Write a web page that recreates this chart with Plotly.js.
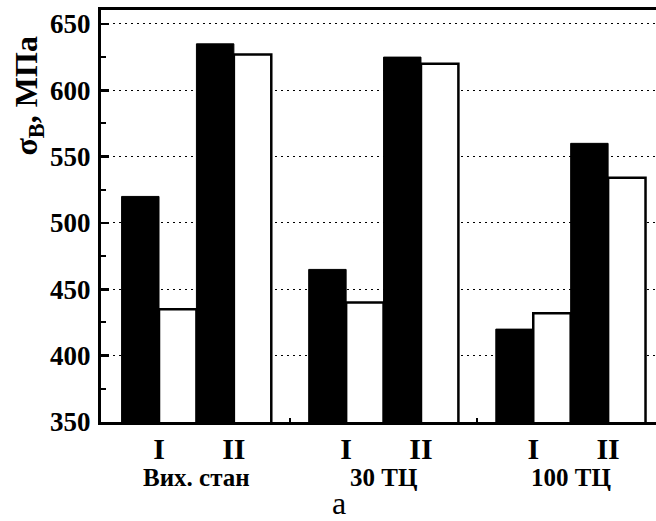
<!DOCTYPE html>
<html>
<head>
<meta charset="utf-8">
<script src="https://cdn.plot.ly/plotly-3.0.1.min.js"></script>
<style>html,body{margin:0;padding:0;background:#fff;}#chart{width:656px;height:521px;}</style>
</head>
<body>
<div id="chart"></div>
<script>
// Data
const groups = ['Вих. стан', '30 ТЦ', '100 ТЦ'];
const subLabels = ['I', 'II'];
const blackVals = [520, 635, 465, 625, 420, 560];
const whiteVals = [435, 627, 440, 620, 432, 534];
const yTicks = [350, 400, 450, 500, 550, 600, 650];
const yTitle = 'σ<sub>В</sub>, МПа';
const caption = 'а';

// Layout helpers (positions derived from indices)
const groupStep = 2.5;
const xs = [], tickText = [];
groups.forEach((g, gi) => subLabels.forEach((s, si) => { xs.push(gi * groupStep + si); tickText.push(s); }));
const groupCenters = groups.map((g, gi) => gi * groupStep + (subLabels.length - 1) / 2);
const betweenGroups = groups.slice(1).map((g, gi) => gi * groupStep + (subLabels.length - 1) + (groupStep - (subLabels.length - 1)) / 2);

const FAM = 'Liberation Serif';
const font = {family: FAM, color: '#000'};

const traces = [
  {type: 'bar', x: xs, y: blackVals, marker: {color: '#000', line: {color: '#000', width: 1}}, showlegend: false, hoverinfo: 'skip'},
  {type: 'bar', x: xs, y: whiteVals, marker: {color: '#fff', line: {color: '#000', width: 2.5}}, showlegend: false, hoverinfo: 'skip'}
];

const annotations = groups.map((g, i) => ({
  x: groupCenters[i], xref: 'x', y: -0.1335, yref: 'paper', yanchor: 'middle', xanchor: 'center',
  text: '<b>' + g + '</b>', showarrow: false, font: Object.assign({}, font, {size: 25})
}));
annotations.push({x: -0.13, xref: 'paper', y: 0.792, yref: 'paper', xanchor: 'center', yanchor: 'middle',
  text: '<b>' + yTitle + '</b>', textangle: -90, showarrow: false, font: Object.assign({}, font, {size: 32})});
annotations.push({x: 0.429, xref: 'paper', y: -0.197, yref: 'paper', xanchor: 'center', yanchor: 'middle',
  text: caption, showarrow: false, font: Object.assign({}, font, {size: 32})});

const layout = {
  width: 656, height: 521,
  margin: {l: 101, r: 0, t: 10, b: 99, pad: 0},
  paper_bgcolor: '#fff', plot_bgcolor: '#fff',
  barmode: 'group', bargap: 0, bargroupgap: 0,
  showlegend: false,
  font: font,
  xaxis: {
    range: [-0.775, 6.64], showgrid: false, zeroline: false,
    showline: true, linecolor: '#000', linewidth: 3, mirror: true,
    tickvals: xs, ticktext: tickText.map(t => '<b>' + t + '</b>'), ticks: '', ticklabelstandoff: -2,
    tickfont: Object.assign({}, font, {size: 30}),
    minor: {tickvals: betweenGroups, ticks: 'inside', ticklen: 4, tickwidth: 2, tickcolor: '#000', showgrid: false}
  },
  yaxis: {
    range: [350, 660.5], zeroline: false,
    showline: true, linecolor: '#000', linewidth: 3, mirror: false,
    tickvals: yTicks, ticktext: yTicks.map(v => '<b>' + v + '</b>'),
    ticks: 'inside', ticklen: 8, tickwidth: 2.5, tickcolor: '#000',
    showgrid: true, gridcolor: '#000', gridwidth: 1, griddash: '2px,4px',
    ticklabelstandoff: 2,
    tickfont: Object.assign({}, font, {size: 27}),
    minor: {dtick: 25, ticks: 'inside', ticklen: 5, tickwidth: 2, tickcolor: '#000', showgrid: false}
  },
  annotations: annotations
};

Plotly.newPlot('chart', traces, layout, {staticPlot: true, displayModeBar: false});
</script>
</body>
</html>
